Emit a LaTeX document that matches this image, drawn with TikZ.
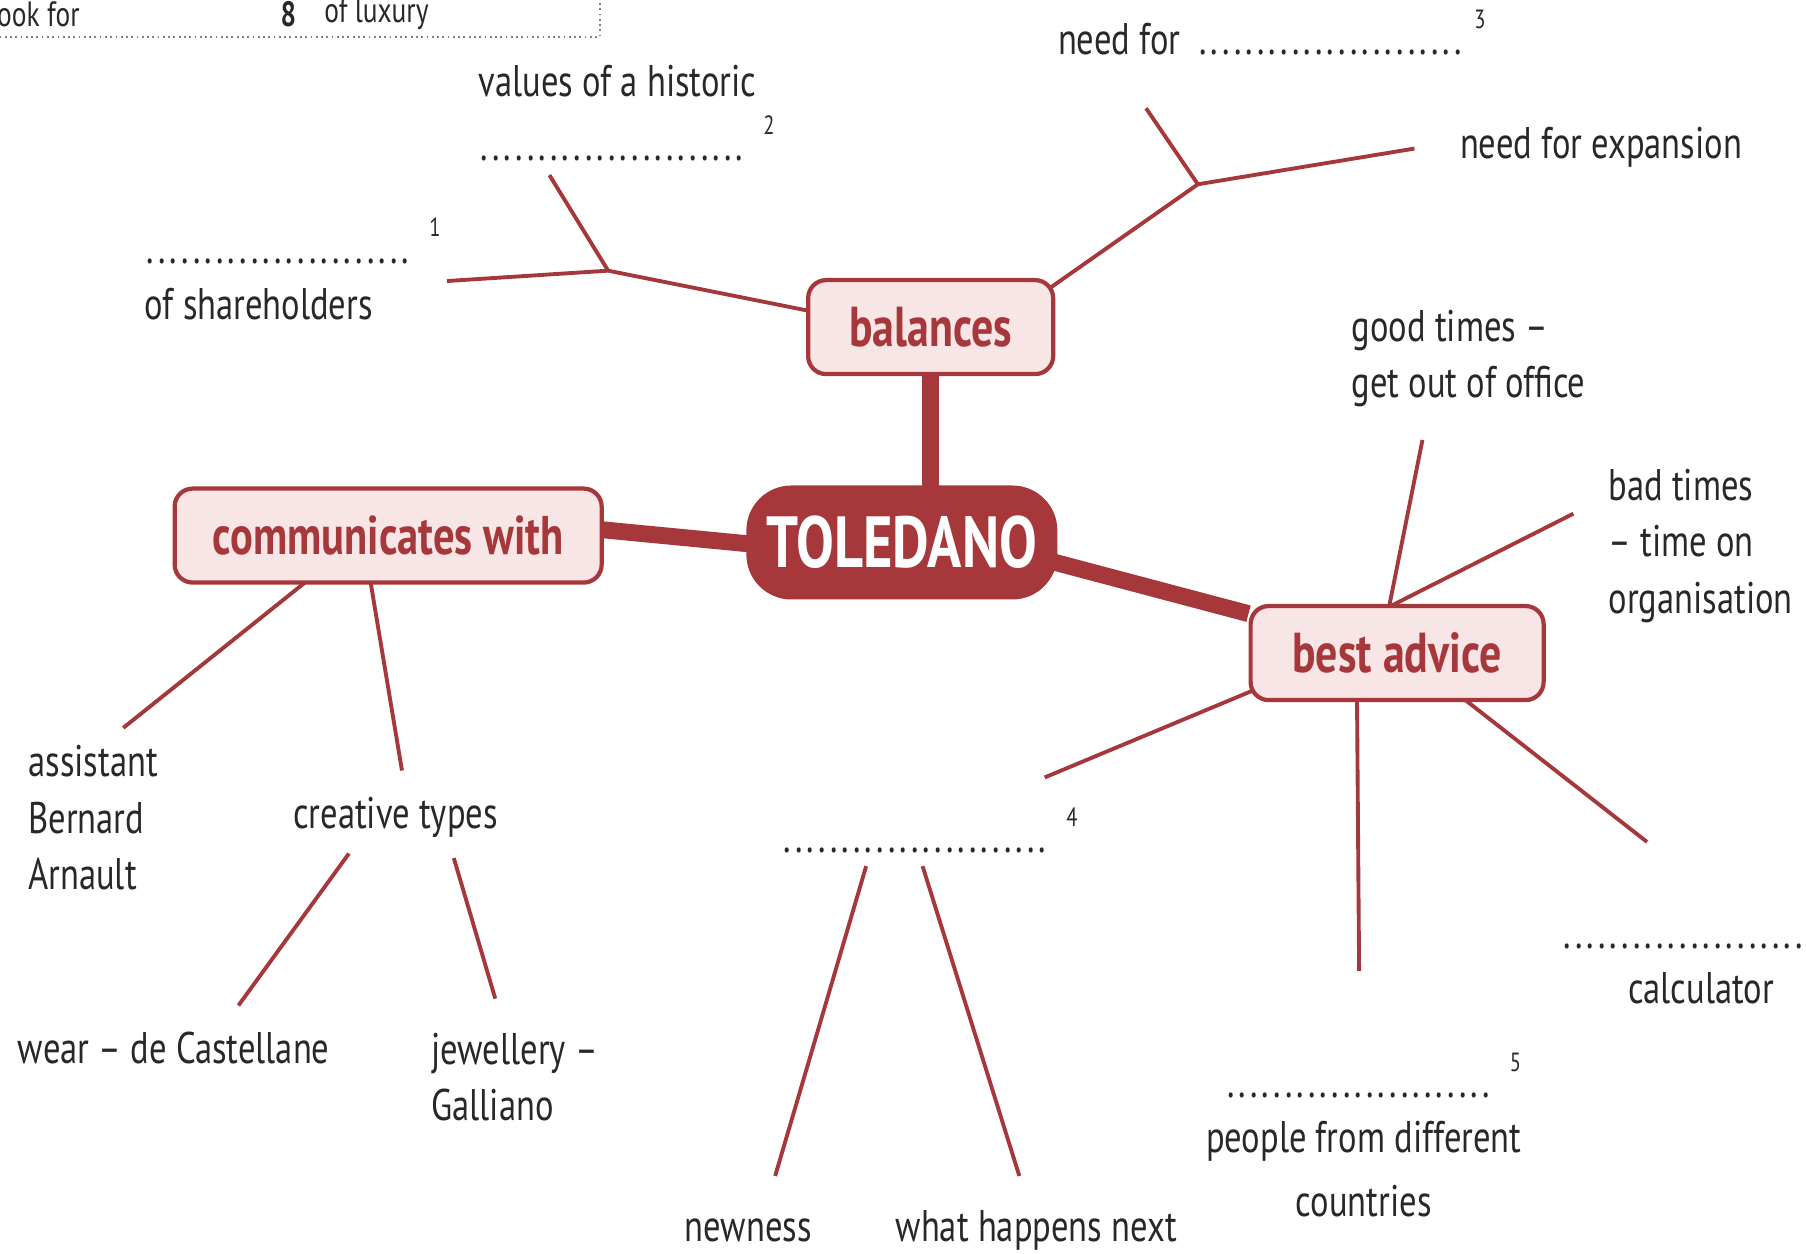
\documentclass[tikz,border=0pt]{standalone}
\usepackage{fontspec}
\setmainfont{PT Sans}[FakeStretch=0.78]
\usetikzlibrary{backgrounds}
\definecolor{mm_red}{RGB}{166, 56, 60}
\definecolor{mm_pink}{RGB}{248, 229, 229}
\definecolor{mm_ink}{RGB}{40, 40, 40}
\tikzstyle{hub}=[rounded corners=4.5mm,fill=mm_red,text=white,
  font=\fontsize{20.6}{24}\selectfont\bfseries,minimum width=31.1mm,minimum height=11.4mm]
\tikzstyle{branchbox}=[rounded corners=1.8mm,fill=mm_pink,draw=mm_red,line width=1.2pt,
  text=mm_red,font=\fontsize{16}{19}\selectfont\bfseries,minimum height=9.4mm]
\tikzstyle{lbl}=[anchor=west,inner sep=0pt,align=left,text=mm_ink,
  font=\fontsize{12.6}{16}\selectfont]
\tikzstyle{twig}=[draw=mm_red,line width=1.1pt]
\tikzstyle{trunk}=[draw=mm_red,line width=4.8pt]
\newcommand\dotrow{\leaders\hbox to 3.3pt{\hss.\hss}\hskip 79pt\relax}
\newcommand\fillin[1]{\dotrow\hspace{2pt}\raisebox{7.5pt}{\fontsize{7.5}{8}\selectfont #1}}

\begin{document}
\begin{tikzpicture}[x=0.11518mm, y=-0.11518mm]
    \useasboundingbox (0,0) rectangle (1568,1088);
    \draw [densely dotted, gray, line width=0.5pt] (-5,32) -- (521,32) -- (521,-5);
    \node [style=lbl, font=\fontsize{10}{12}\selectfont] (top1) at (-3,12) {ook for};
    \node [style=lbl, font=\fontsize{10}{12}\selectfont] (top2) at (243,12) {\textbf{8}};
    \node [style=lbl, font=\fontsize{10}{12}\selectfont] (top3) at (281,12) {of luxury};

    \node [style=hub] (tol) at (783,471) {TOLEDANO};
    \node [style=branchbox, minimum width=24.5mm] (bal) at (808,284) {balances};
    \node [style=branchbox, minimum width=42.7mm, font=\fontsize{15.5}{19}\selectfont\bfseries] (comm) at (337,465) {communicates with};
    \node [style=branchbox, minimum width=29.3mm] (best) at (1213,567) {best advice};

    \node [style=lbl] (hist) at (415,70) {values of a historic};
    \node [style=lbl] (gap2) at (415,120) {\fillin{2}};
    \node [style=lbl] (gap1) at (125,209) {\fillin{1}};
    \node [style=lbl] (share) at (125,264) {of shareholders};
    \node [style=lbl] (need) at (918,28) {need for \fillin{3}};
    \node [style=lbl] (exp) at (1267,128) {need for expansion};
    \node [style=lbl] (good) at (1173,311) {good times –\\get out of office};
    \node [style=lbl] (bad) at (1396,474) {bad times\\– time on\\organisation};
    \node [style=lbl] (assist) at (24,710) {assistant\\Bernard\\Arnault};
    \node [style=lbl] (creat) at (254,710) {creative types};
    \node [style=lbl] (wear) at (15,910) {wear – de Castellane};
    \node [style=lbl] (jew) at (374,935) {jewellery –\\Galliano};
    \node [style=lbl] (gap4) at (678,721) {\fillin{4}};
    \node [style=lbl] (new) at (594,1068) {newness};
    \node [style=lbl] (next) at (777,1068) {what happens next};
    \node [style=lbl] (gap5) at (1063,934) {\fillin{5}};
    \node [style=lbl, anchor=center, align=center] (people) at (1184,1015) {people from different\\[2pt]countries};
    \node [style=lbl] (gapc) at (1355,822) {\dotrow};
    \node [style=lbl] (calc) at (1413,858) {calculator};

    \coordinate (bj1) at (528,235);
    \coordinate (bj2) at (1040,160);
    \coordinate (tshare) at (388,244);
    \coordinate (thist) at (477,152);
    \coordinate (texp) at (1228,129);
    \coordinate (tneed) at (995,94);
    \coordinate (tassist) at (107,632);
    \coordinate (tcreat) at (349,669);
    \coordinate (cwear0) at (303,741);
    \coordinate (cwear) at (207,873);
    \coordinate (cjew0) at (394,745);
    \coordinate (cjew) at (430,867);
    \coordinate (tgood) at (1235,382);
    \coordinate (tbad) at (1366,446);
    \coordinate (tgap4) at (907,675);
    \coordinate (tgap5) at (1180,843);
    \coordinate (tcalc) at (1430,731);
    \coordinate (gnew0) at (752,752);
    \coordinate (gnew) at (673,1021);
    \coordinate (gnext0) at (801,752);
    \coordinate (gnext) at (885,1021);

    \begin{scope}[on background layer]
    \draw [style=trunk] (bal) to (bal |- tol);
    \draw [style=trunk] ([shift={(0,-23)}]comm.center) to ([shift={(0,14)}]tol.center);
    \draw [style=trunk] ([shift={(0,-18)}]tol.center) to (best);
    \draw [style=twig] ([shift={(-80,-9)}]bal.center) to (bj1);
    \draw [style=twig] (bj1) to (tshare);
    \draw [style=twig] (bj1) to (thist);
    \draw [style=twig] ([shift={(78,-16)}]bal.center) to (bj2);
    \draw [style=twig] (bj2) to (texp);
    \draw [style=twig] (bj2) to (tneed);
    \draw [style=twig] ([shift={(-50,23)}]comm.center) to (tassist);
    \draw [style=twig] ([shift={(-19,18)}]comm.center) to (tcreat);
    \draw [style=twig] (cwear0) to (cwear);
    \draw [style=twig] (cjew0) to (cjew);
    \draw [style=twig] ([shift={(-12,-15)}]best.center) to (tgood);
    \draw [style=twig] ([shift={(-31,-28)}]best.center) to (tbad);
    \draw [style=twig] ([shift={(-100,22)}]best.center) to (tgap4);
    \draw [style=twig] ([shift={(-35,18)}]best.center) to (tgap5);
    \draw [style=twig] ([shift={(39,25)}]best.center) to (tcalc);
    \draw [style=twig] (gnew0) to (gnew);
    \draw [style=twig] (gnext0) to (gnext);
    \end{scope}
\end{tikzpicture}
\end{document}
